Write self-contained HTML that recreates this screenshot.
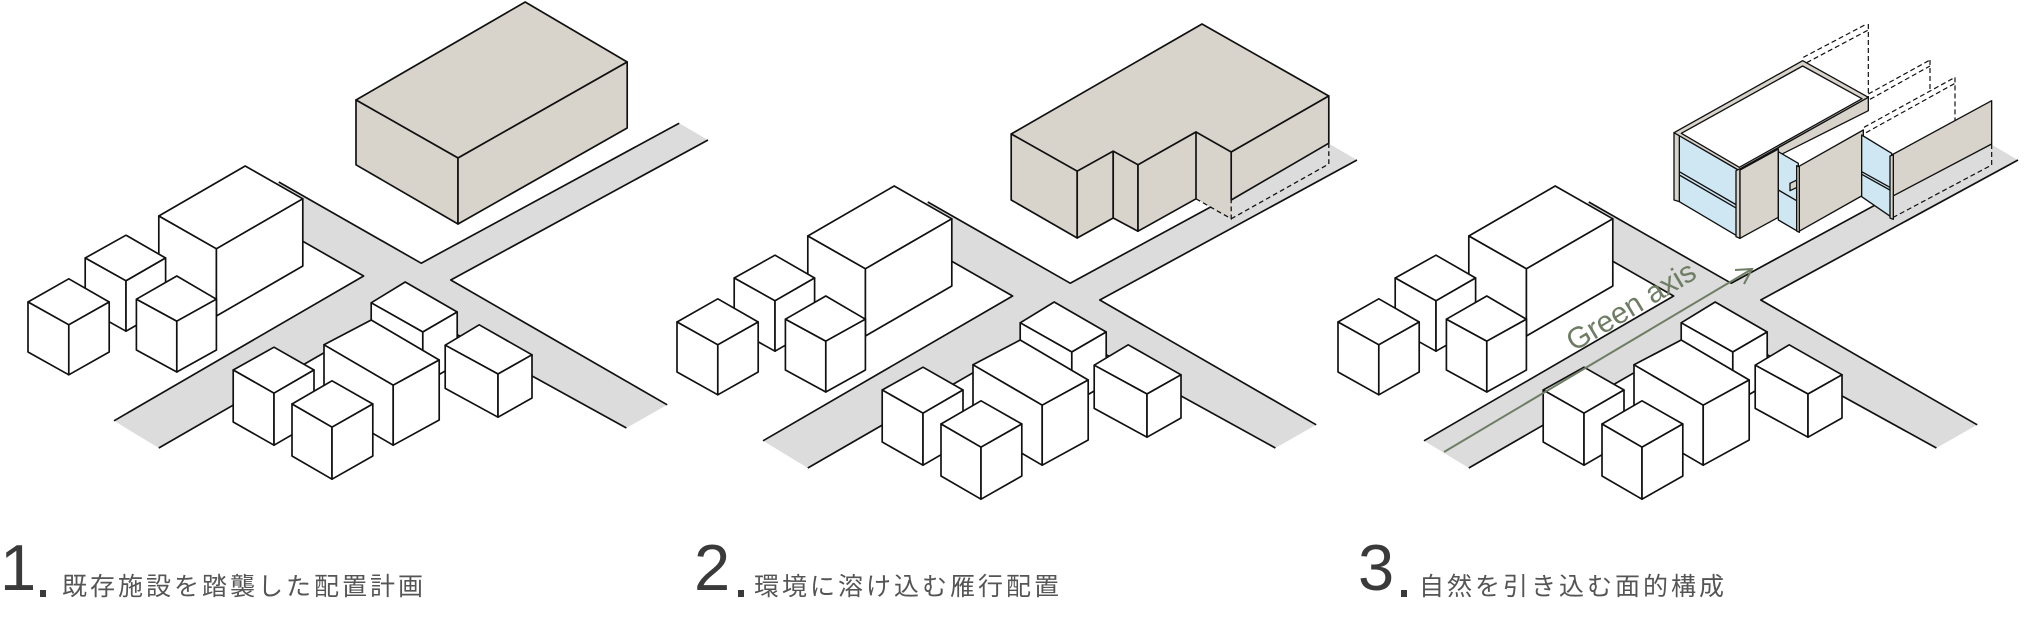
<!DOCTYPE html>
<html><head><meta charset="utf-8"><style>
html,body{margin:0;padding:0;background:#fff;}
svg{display:block;}
.s{stroke:#111;stroke-width:4.2;stroke-linejoin:round;}
.p3 .s{stroke-width:4;}
.w{fill:#fff;}
.b{fill:#d8d4cb;}
.g{fill:#cfe6f3;}
.n{fill:none;}
.d{fill:none;stroke:#111;stroke-width:3.2;stroke-dasharray:12 8;}
.p3 .d{stroke-width:3.6;stroke-dasharray:15 9;}
.num{font-family:"Liberation Sans",sans-serif;font-size:65px;fill:#3a3a3a;}
.jp{font-family:"Liberation Sans","Noto Sans CJK JP",sans-serif;font-size:25px;fill:#555;letter-spacing:3px;}
</style></head><body>
<svg width="2032" height="628" viewBox="0 0 2032 628" xmlns="http://www.w3.org/2000/svg">
<defs>
<g id="city">
  <polygon fill="#dcdcdc" points="285,1052 909,690 599,513 697,455 1053,658 1698,308 1770,350 1127,700 1668,1012 1566,1070 1013,765 397,1120"/>
  <polyline class="s n" points="285,1052 909,690 599,513"/>
  <polyline class="s n" points="697,455 1053,658 1698,308"/>
  <polyline class="s n" points="1770,350 1127,700 1668,1012"/>
  <polyline class="s n" points="1566,1070 1013,765 397,1120"/>
  <g class="s w">
   <polygon points="613,415 757,497 541,622 397,540"/><polygon points="397,540 541,622 541,790 397,708"/><polygon points="541,622 757,497 757,665 541,790"/>
  </g>
  <g class="s w">
   <polygon points="315,588 414,645 315,702 213,645"/><polygon points="213,645 315,702 315,828 213,771"/><polygon points="315,702 414,645 414,771 315,828"/>
  </g>
  <g class="s w">
   <polygon points="172,697 273,755 172,812 70,755"/><polygon points="70,755 172,812 172,937 70,880"/><polygon points="172,812 273,755 273,880 172,937"/>
  </g>
  <g class="s w">
   <polygon points="442,690 541,748 442,803 341,748"/><polygon points="341,748 442,803 442,930 341,875"/><polygon points="442,803 541,748 541,875 442,930"/>
  </g>
  <g class="s w">
   <polygon points="1013,705 1143,780 1057,830 928,757"/><polygon points="928,757 1057,830 1057,960 928,887"/><polygon points="1057,830 1143,780 1143,910 1057,960"/>
  </g>
  <g class="s w">
   <polygon points="928,800 1098,900 983,963 810,862"/><polygon points="810,862 983,963 983,1113 810,1012"/><polygon points="983,963 1098,900 1098,1050 983,1113"/>
  </g>
  <g class="s w">
   <polygon points="1198,812 1330,887 1245,935 1113,863"/><polygon points="1113,863 1245,935 1245,1043 1113,971"/><polygon points="1245,935 1330,887 1330,995 1245,1043"/>
  </g>
  <g class="s w">
   <polygon points="685,868 785,925 685,983 583,925"/><polygon points="583,925 685,983 685,1113 583,1055"/><polygon points="685,983 785,925 785,1055 685,1113"/>
  </g>
  <g class="s w">
   <polygon points="830,952 932,1010 830,1068 730,1010"/><polygon points="730,1010 830,1068 830,1198 730,1140"/><polygon points="830,1068 932,1010 932,1140 830,1198"/>
  </g>
</g>
</defs>

<!-- Panel 1 -->
<g transform="scale(0.4)">
  <use href="#city"/>
  <g class="s b">
   <polygon points="1313,5 1568,155 1145,395 890,250"/>
   <polygon points="890,250 1145,395 1145,560 890,412"/>
   <polygon points="1145,395 1568,155 1568,320 1145,560"/>
  </g>
</g>

<!-- Panel 2 -->
<g transform="translate(649,20) scale(0.4)"><use href="#city"/></g>
<g transform="translate(628,0) scale(0.4)">
  <polygon class="b" points="1420,330 1508,380 1508,547 1420,497"/>
  <g class="s b">
   <polygon points="1435,60 1752,240 1508,380 1420,330 1275,412 1213,378 1123,428 958,335"/>
   <polygon points="958,335 1123,428 1123,595 958,500"/>
   <polygon points="1123,428 1213,378 1213,545 1123,595"/>
   <polygon points="1213,378 1275,412 1275,578 1213,545"/>
   <polygon points="1275,412 1420,330 1420,497 1275,578"/>
   <polygon points="1508,380 1752,240 1752,358 1508,500"/>
  </g>
  <polyline class="d" points="1420,497 1508,547 1508,500"/>
  <polyline class="d" points="1752,358 1752,410 1508,547"/>
</g>

<!-- Panel 3 -->
<g transform="translate(1310,20) scale(0.4)"><use href="#city"/></g>
<g class="p3" transform="translate(1660,20) scale(0.33333)">
  <line class="d" x1="430" y1="112" x2="620" y2="12"/>
  <line class="d" x1="440" y1="128" x2="625" y2="30"/>
  <line class="d" x1="625" y1="12" x2="625" y2="232"/>
  <line class="d" x1="625" y1="222" x2="810" y2="120"/>
  <line class="d" x1="630" y1="238" x2="810" y2="138"/>
  <line class="d" x1="810" y1="120" x2="810" y2="210"/>
  <line class="d" x1="612" y1="322" x2="885" y2="172"/>
  <line class="d" x1="618" y1="338" x2="885" y2="190"/>
  <line class="d" x1="885" y1="172" x2="885" y2="300"/>
  <polyline class="d" points="995,372 995,435 700,592 690,580"/>
  <polygon class="s g" points="58,345 235,450 235,650 58,545"/>
  <polyline class="s n" points="58,455 235,558"/>
  <polyline class="s n" points="58,465 235,568"/>
  <polygon class="s b" points="42,338 58,345 58,545 42,540"/>
  <polygon class="s b" points="42,338 428,122 625,232 235,450"/>
  <polygon class="s w" points="64,340 428,138 606,236 238,442"/>
  <polygon class="s b" points="235,450 625,232 625,272 235,468"/>
  <polygon class="s b" points="228,452 240,446 240,655 228,650"/>
  <polygon class="s b" points="240,450 355,387 355,592 240,655"/>
  <polygon class="s g" points="355,395 415,430 415,635 355,600"/>
  <polyline class="s n" points="355,510 415,545"/>
  <polygon class="s b" points="390,490 415,478 415,500 390,512"/>
  <polygon class="s b" points="415,440 610,330 610,525 415,635"/>
  <polygon class="s b" points="410,437 418,441 418,637 410,633"/>
  <polygon class="s g" points="605,345 695,400 695,592 605,530"/>
  <polyline class="s n" points="605,455 695,505"/>
  <polyline class="s n" points="605,463 695,513"/>
  <polygon class="s b" points="695,405 995,242 995,372 695,530"/>
  <polygon class="s b" points="690,408 700,404 700,598 690,594"/>
</g>

<!-- Green axis -->
<line x1="1444" y1="452" x2="1752" y2="269" stroke="#6e7d63" stroke-width="2"/>
<polyline points="1735,270 1752,269 1744,284" fill="none" stroke="#6e7d63" stroke-width="2"/>
<text x="0" y="0" transform="translate(1574,352) rotate(-31)" font-family="Liberation Sans, sans-serif" font-size="30" fill="#6e7d63">Green axis</text>

<!-- Labels -->
<text class="num" x="0" y="590">1</text>
<rect x="40" y="590" width="6" height="7" fill="#3a3a3a"/>
<text class="jp" x="62" y="595">既存施設を踏襲した配置計画</text>

<text class="num" x="694" y="590">2</text>
<rect x="738" y="590" width="6" height="7" fill="#3a3a3a"/>
<text class="jp" x="754" y="595">環境に溶け込む雁行配置</text>

<text class="num" x="1358" y="590">3</text>
<rect x="1401" y="590" width="6" height="7" fill="#3a3a3a"/>
<text class="jp" x="1419" y="595">自然を引き込む面的構成</text>
</svg>
</body></html>
